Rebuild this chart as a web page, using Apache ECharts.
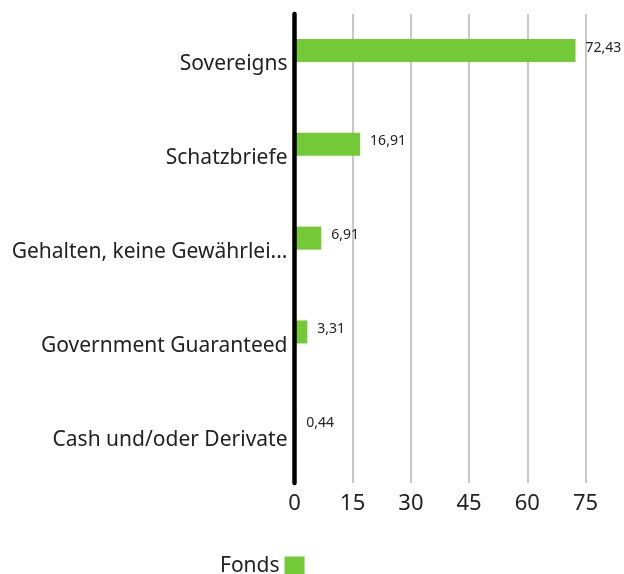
<!DOCTYPE html>
<html>
<head>
<meta charset="utf-8">
<script src="https://cdn.jsdelivr.net/npm/echarts@6/dist/echarts.min.js"></script>
<style>
  html, body { margin: 0; padding: 0; background: #fff; }
  #chart { width: 624px; height: 574px; }
</style>
</head>
<body>
<div id="chart"></div>
<script>
// Daten
var categories = ["Sovereigns", "Schatzbriefe", "Gehalten, keine Gewährleistung", "Government Guaranteed", "Cash und/oder Derivate"];
var fondsValues = [72.43, 16.91, 6.91, 3.31, 0.44];
var xTicks = [0, 15, 30, 45, 60, 75];

var chart = echarts.init(document.getElementById("chart"));
chart.setOption({
  animation: false,
  textStyle: { fontFamily: "Noto Sans" },
  grid: { left: 294.5, right: 38.5, top: 14, bottom: 91, containLabel: false },
  legend: {
    left: 220,
    top: 556,
    padding: 0,
    align: "right",
    itemWidth: 20,
    itemHeight: 20,
    itemGap: 13,
    icon: "rect",
    textStyle: { fontSize: 21, color: "#222" },
    data: ["Fonds"]
  },
  xAxis: {
    type: "value",
    min: xTicks[0],
    max: xTicks[xTicks.length - 1],
    interval: 15,
    axisLine: { show: false },
    axisTick: { show: false },
    splitLine: { lineStyle: { color: "#c8c8c8", width: 2 } },
    axisLabel: { fontSize: 22, color: "#222", margin: 10 }
  },
  yAxis: {
    type: "category",
    inverse: true,
    z: 10,
    data: categories,
    axisLine: { lineStyle: { color: "#000", width: 4.5 } },
    axisTick: { show: false },
    axisLabel: {
      fontSize: 21,
      color: "#222",
      margin: 7,
      verticalAlign: "top",
      lineHeight: 7,
      width: 283,
      overflow: "truncate",
      ellipsis: "..."
    }
  },
  series: [
    {
      name: "Fonds",
      type: "bar",
      data: fondsValues,
      barWidth: 23,
      barGap: "-10%",
      itemStyle: { color: "#74c936" },
      label: {
        show: true,
        position: "right",
        distance: 10,
        offset: [0, -3],
        fontSize: 14,
        color: "#222",
        formatter: function (p) { return String(p.value).replace(".", ","); }
      }
    },
    {
      name: "Vergleich",
      type: "bar",
      data: [null, null, null, null, null],
      barWidth: 23
    }
  ]
});
</script>
</body>
</html>
